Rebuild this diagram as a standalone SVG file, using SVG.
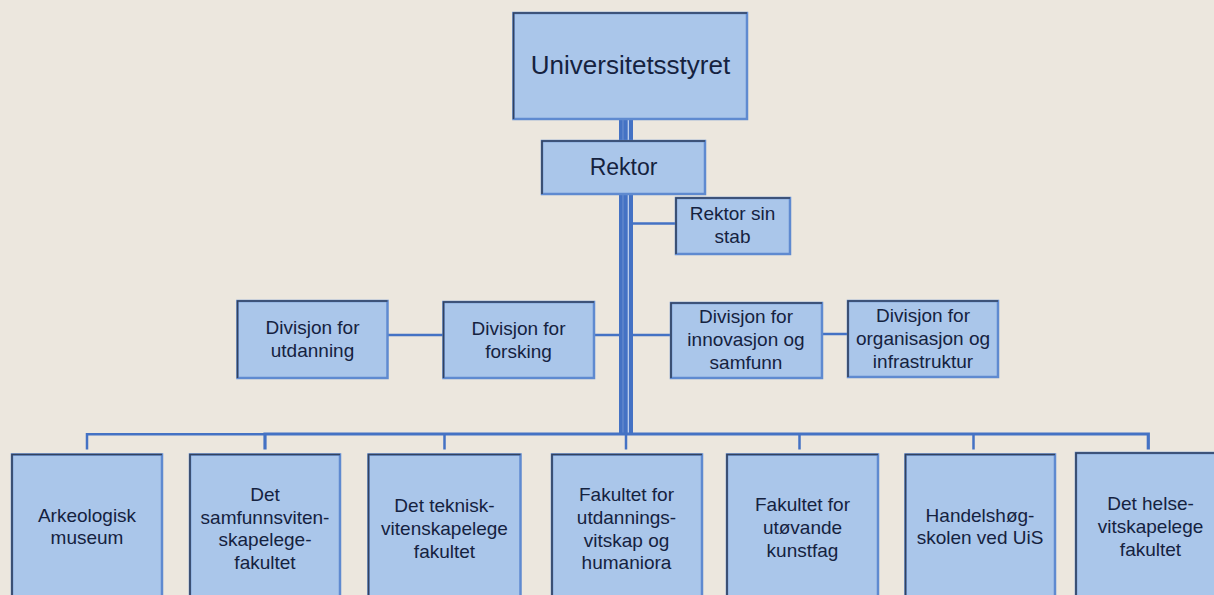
<svg xmlns="http://www.w3.org/2000/svg" width="1214" height="595" viewBox="0 0 1214 595">
<style>
.bg{fill:#ECE7DE}
.box{fill:#AAC6EA;stroke:#5F8AD0;stroke-width:2.5}
.edge{fill:none;stroke:#33425E;stroke-width:1.6}
.ln{fill:none;stroke:#4472C4;stroke-width:2.5}
.lnt{fill:none;stroke:#4472C4;stroke-width:3.2}
text{font-family:"Liberation Sans",Arial,sans-serif;fill:#15223F;text-anchor:middle;font-size:19px}
.t1{font-size:26px}
.t2{font-size:23px}
</style>
<rect class="bg" x="0" y="0" width="1214" height="595"/>
<g id="connectors">
  <rect x="619" y="119" width="14" height="315" fill="#4472C4"/>
  <line x1="623" y1="119" x2="623" y2="434" stroke="#7A9AD6" stroke-width="0.8"/>
  <line x1="628.3" y1="119" x2="628.3" y2="434" stroke="#C9D7EF" stroke-width="1.2"/>
  <path class="ln" d="M633 223.5 H676"/>
  <path class="ln" d="M633 335 H671"/>
  <path class="ln" d="M822 334 H848"/>
  <path class="ln" d="M594 335 H619"/>
  <path class="ln" d="M388 335 H443.5"/>
  <path class="ln" d="M87 449.5 V434.3 H264"/>
  <path class="lnt" d="M265 449.5 V434 H1148.3 V449.5"/>
  <path class="ln" d="M444.5 434 V449.5"/>
  <path class="ln" d="M626 434 V449.5"/>
  <path class="ln" d="M799.5 434 V449.5"/>
  <path class="ln" d="M973.5 434 V449.5"/>
</g>
<g id="n-styret">
  <rect class="box" x="513.5" y="13" width="233.5" height="106"/>
  <path class="edge" d="M513.5 119 V13 H747"/>
  <text class="t1" x="630.5" y="74">Universitetsstyret</text>
</g>
<g id="n-rektor">
  <rect class="box" x="542" y="141" width="163" height="53"/>
  <path class="edge" d="M542 194 V141 H705"/>
  <text class="t2" x="623.5" y="175">Rektor</text>
</g>
<g id="n-stab">
  <rect class="box" x="676" y="198" width="114" height="56"/>
  <path class="edge" d="M676 254 V198 H790"/>
  <text x="732.5" y="220">Rektor sin</text>
  <text x="732.5" y="242.5">stab</text>
</g>
<g id="n-utdanning">
  <rect class="box" x="237.5" y="301" width="150" height="77"/>
  <path class="edge" d="M237.5 378 V301 H387.5"/>
  <text x="312.5" y="334">Divisjon for</text>
  <text x="312.5" y="357">utdanning</text>
</g>
<g id="n-forsking">
  <rect class="box" x="443.5" y="302" width="150.5" height="76"/>
  <path class="edge" d="M443.5 378 V302 H594"/>
  <text x="518.5" y="334.5">Divisjon for</text>
  <text x="518.5" y="357.5">forsking</text>
</g>
<g id="n-innovasjon">
  <rect class="box" x="671" y="303" width="151" height="75"/>
  <path class="edge" d="M671 378 V303 H822"/>
  <text x="746" y="323">Divisjon for</text>
  <text x="746" y="346">innovasjon og</text>
  <text x="746" y="369">samfunn</text>
</g>
<g id="n-organisasjon">
  <rect class="box" x="848" y="301" width="150" height="76"/>
  <path class="edge" d="M848 377 V301 H998"/>
  <text x="923" y="322">Divisjon for</text>
  <text x="923" y="345">organisasjon og</text>
  <text x="923" y="367.5">infrastruktur</text>
</g>
<g id="n-arkeologisk">
  <rect class="box" x="12" y="454.5" width="150" height="150"/>
  <path class="edge" d="M12 605 V454.5 H162"/>
  <text x="87" y="521.5">Arkeologisk</text>
  <text x="87" y="544">museum</text>
</g>
<g id="n-samfunn">
  <rect class="box" x="190" y="454.5" width="150" height="150"/>
  <path class="edge" d="M190 605 V454.5 H340"/>
  <text x="265" y="501">Det</text>
  <text x="265" y="523.5">samfunnsviten-</text>
  <text x="265" y="546">skapelege-</text>
  <text x="265" y="568.5">fakultet</text>
</g>
<g id="n-teknisk">
  <rect class="box" x="368.5" y="454.5" width="152" height="150"/>
  <path class="edge" d="M368.5 605 V454.5 H520.5"/>
  <text x="444.5" y="512">Det teknisk-</text>
  <text x="444.5" y="535">vitenskapelege</text>
  <text x="444.5" y="557.5">fakultet</text>
</g>
<g id="n-utdanningsvitskap">
  <rect class="box" x="552" y="454.5" width="150" height="150"/>
  <path class="edge" d="M552 605 V454.5 H702"/>
  <text x="626.5" y="501">Fakultet for</text>
  <text x="626.5" y="524">utdannings-</text>
  <text x="626.5" y="546.5">vitskap og</text>
  <text x="626.5" y="569">humaniora</text>
</g>
<g id="n-kunstfag">
  <rect class="box" x="727" y="454.5" width="151" height="150"/>
  <path class="edge" d="M727 605 V454.5 H878"/>
  <text x="802.5" y="511">Fakultet for</text>
  <text x="802.5" y="534">utøvande</text>
  <text x="802.5" y="556.5">kunstfag</text>
</g>
<g id="n-handels">
  <rect class="box" x="905.5" y="454.5" width="149.5" height="150"/>
  <path class="edge" d="M905.5 605 V454.5 H1055"/>
  <text x="980" y="521.5">Handelshøg-</text>
  <text x="980" y="544">skolen ved UiS</text>
</g>
<g id="n-helse">
  <rect class="box" x="1076" y="453" width="150" height="150"/>
  <path class="edge" d="M1076 605 V453 H1226"/>
  <text x="1150.5" y="510">Det helse-</text>
  <text x="1150.5" y="533">vitskapelege</text>
  <text x="1150.5" y="556">fakultet</text>
</g>
</svg>
